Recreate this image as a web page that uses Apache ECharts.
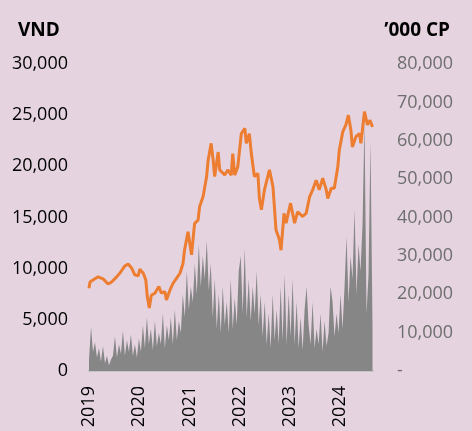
<!DOCTYPE html>
<html>
<head>
<meta charset="utf-8">
<script src="https://cdn.jsdelivr.net/npm/echarts@6/dist/echarts.min.js"></script>
<style>
  html, body { margin: 0; padding: 0; background: #e5d4e0; }
  #chart { width: 472px; height: 431px; }
</style>
</head>
<body>
<div id="chart"></div>
<script>
// share price (VND), x in fractional years
const priceYears = [2019.0, 2019.02, 2019.18, 2019.28, 2019.38, 2019.45, 2019.55, 2019.62, 2019.71, 2019.78,
  2019.85, 2019.91, 2019.98, 2020.01, 2020.08, 2020.13, 2020.16, 2020.20, 2020.24, 2020.31,
  2020.39, 2020.44, 2020.51, 2020.54, 2020.61, 2020.67, 2020.74, 2020.81, 2020.87, 2020.90,
  2020.97, 2021.04, 2021.10, 2021.17, 2021.20, 2021.27, 2021.34, 2021.37, 2021.43, 2021.47,
  2021.50, 2021.57, 2021.60, 2021.70, 2021.76, 2021.83, 2021.86, 2021.90, 2021.96, 2022.03,
  2022.10, 2022.13, 2022.19, 2022.23, 2022.29, 2022.36, 2022.39, 2022.43, 2022.49, 2022.59,
  2022.66, 2022.72, 2022.79, 2022.82, 2022.88, 2022.92, 2023.01, 2023.09, 2023.15, 2023.25,
  2023.32, 2023.39, 2023.45, 2023.52, 2023.58, 2023.65, 2023.72, 2023.75, 2023.82, 2023.88,
  2023.95, 2023.98, 2024.05, 2024.11, 2024.16, 2024.21, 2024.24, 2024.31, 2024.38, 2024.41,
  2024.48, 2024.54, 2024.59, 2024.64]
const priceValues = [8080, 8700, 9200, 9000, 8500, 8700, 9200, 9600, 10250, 10450,
  10050, 9400, 9300, 9950, 9550, 8900, 7250, 6150, 7400, 7600,
  8250, 7600, 7750, 6950, 7900, 8550, 9050, 9550, 10500, 11800,
  13600, 11350, 14400, 14750, 16050, 17050, 19000, 20600, 22250, 20600,
  19000, 21400, 19650, 19150, 19650, 19150, 21250, 19150, 19950, 23200,
  23700, 22250, 23200, 21250, 19000, 19300, 16850, 15750, 17700, 19650,
  18000, 13800, 12800, 11800, 15400, 14450, 16400, 14450, 15550, 15100,
  15400, 17050, 17700, 18650, 17700, 18850, 17700, 16850, 17850, 17850,
  19950, 21600, 23400, 24050, 25000, 23550, 21900, 22900, 23200, 22250,
  25350, 24050, 24500, 23850]

// trading volume ('000 CP), evenly spaced sessions from volStart to volEnd
const volStart = 2019.0
const volEnd = 2024.64
const volValues = [3000, 11500, 5000, 7500, 3500, 6000, 2500, 6500, 2000, 4000,
  1500, 3000, 4000, 9000, 3500, 7000, 4500, 10500, 4000, 8000,
  5000, 9500, 4000, 7000, 3500, 8500, 5000, 12000, 6000, 14000,
  7000, 11000, 5500, 13000, 6500, 10000, 7000, 15000, 6000, 12000,
  8000, 14000, 7000, 16000, 8000, 13000, 10000, 20000, 14000, 26000,
  16000, 22000, 18000, 28000, 20000, 33000, 22000, 30000, 24000, 34000,
  21000, 28000, 14000, 24000, 11000, 20000, 10000, 22000, 12000, 18000,
  10000, 24000, 11000, 19000, 12000, 26000, 30000, 15000, 32000, 14000,
  24000, 13000, 22000, 15000, 26000, 12000, 20000, 9000, 18000, 7000,
  15000, 6000, 20000, 8000, 16000, 7000, 22000, 8000, 25000, 7000,
  20000, 9000, 24000, 7000, 18000, 6000, 14000, 5500, 16000, 22000,
  12000, 7000, 18000, 6000, 11000, 7000, 15000, 5000, 13000, 6500,
  10000, 22000, 18000, 9000, 15000, 10000, 20000, 11000, 22000, 35000,
  18000, 30000, 24000, 42000, 20000, 33000, 26000, 38000, 65000, 15000,
  25000, 60000, 12000]

const yearMin = 2019
const yearMax = 2024.65

const font = "'Open Sans', sans-serif"
const priceData = priceYears.map((y, i) => [y, priceValues[i]])
const volStep = (volEnd - volStart) / (volValues.length - 1)
const volData = volValues.map((v, i) => [volStart + i * volStep, v])

const chart = echarts.init(document.getElementById('chart'))

const option = {
  backgroundColor: '#e5d4e0',
  animation: false,
  title: [
    {text: 'VND', left: 13, top: 16, textStyle: {fontFamily: font, fontSize: 19, fontWeight: 'bold', color: '#000'}},
    {text: '\u2019000 CP', right: 17, top: 16, textStyle: {fontFamily: font, fontSize: 19, fontWeight: 'bold', color: '#000'}}
  ],
  grid: {left: 89, right: 99, top: 64, bottom: 60},
  xAxis: {
    type: 'value',
    min: yearMin,
    max: yearMax,
    interval: 1,
    axisLine: {show: true, lineStyle: {color: '#c4c4c4', width: 2}},
    axisTick: {show: false},
    splitLine: {show: false},
    axisLabel: {
      rotate: 90,
      margin: 15,
      fontFamily: font,
      fontSize: 18,
      color: '#000',
      showMaxLabel: false,
      formatter: (v) => Math.abs(v - Math.round(v)) < 1e-6 ? String(Math.round(v)) : ''
    }
  },
  yAxis: [
    {
      type: 'value',
      min: 0,
      max: 30000,
      interval: 5000,
      axisLine: {show: false},
      axisTick: {show: false},
      splitLine: {show: false},
      axisLabel: {
        margin: 21, fontFamily: font, fontSize: 18, color: '#000',
        formatter: (v) => v.toLocaleString('en-US')
      }
    },
    {
      type: 'value',
      min: 0,
      max: 80000,
      interval: 10000,
      position: 'right',
      axisLine: {show: false},
      axisTick: {show: false},
      splitLine: {show: false},
      axisLabel: {
        margin: 24, fontFamily: font, fontSize: 18, color: '#6e6e6e',
        formatter: (v) => v === 0 ? '-' : v.toLocaleString('en-US')
      }
    }
  ],
  series: [
    {
      name: 'Volume',
      type: 'line',
      yAxisIndex: 1,
      data: volData,
      symbol: 'none',
      lineStyle: {width: 0},
      areaStyle: {color: '#868686', opacity: 1},
      z: 1
    },
    {
      name: 'Price',
      type: 'line',
      yAxisIndex: 0,
      data: priceData,
      symbol: 'none',
      lineStyle: {width: 3, color: '#ed7d31'},
      z: 2
    }
  ]
}

chart.setOption(option)
</script>
</body>
</html>
